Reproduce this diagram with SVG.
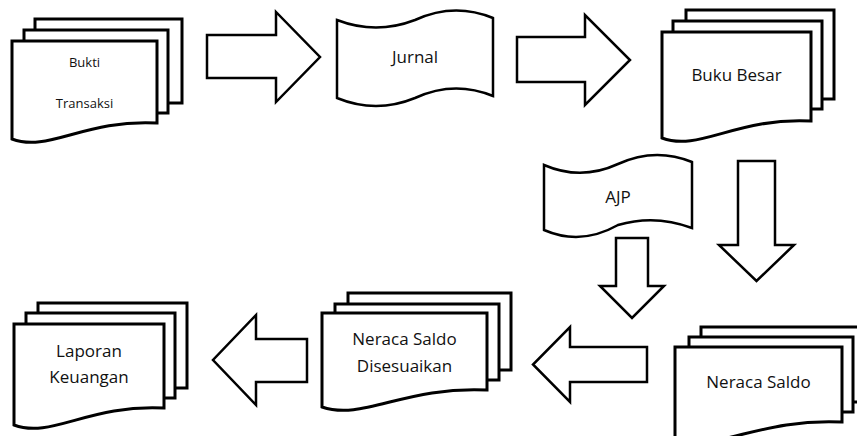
<svg xmlns="http://www.w3.org/2000/svg" width="857" height="436" viewBox="0 0 857 436">
<style>
.sheet{fill:#fff;stroke:#000;stroke-width:3;stroke-linejoin:miter}
.tape{fill:#fff;stroke:#000;stroke-width:2.5}
.arrow{fill:#fff;stroke:#000;stroke-width:2.5;stroke-linejoin:miter}
.t{font-family:"Open Sans","Noto Sans",sans-serif;font-size:17px;fill:#111;text-anchor:middle}
.ts{font-family:"Open Sans","Noto Sans",sans-serif;font-size:13px;fill:#111;text-anchor:middle}
</style>
<rect width="857" height="436" fill="#fff"/>
<g id="connectors">
<polygon class="arrow" points="207,35 276,35 276,12 320,57 276,102 276,78 207,78"/>
<polygon class="arrow" points="517,37 585,37 585,15 630,60 585,105 585,82 517,82"/>
<polygon class="arrow" points="738,161 775,161 775,245 794,245 756.5,281 719,245 738,245"/>
<polygon class="arrow" points="616,238 648,238 648,286 664,286 632,318 600,286 616,286"/>
<polygon class="arrow" points="647,347 570,347 570,327 533,364.5 570,402 570,382 647,382"/>
<polygon class="arrow" points="307,339 256,339 256,315 213,360 256,405 256,382 307,382"/>
</g>
<g id="bukti-transaksi">
<rect class="sheet" x="35" y="19" width="147" height="84"/>
<rect class="sheet" x="24" y="30" width="144" height="83"/>
<path class="sheet" d="M12,41 H157 V123 C84.5,119 48.25,153 12,139 Z"/>
<text class="ts" x="84.5" y="67">Bukti</text>
<text class="ts" x="84.5" y="108">Transaksi</text>
</g>
<g id="jurnal">
<path class="tape" d="M337,20 Q376,35 415,20 Q454,2 493,18 L493,96 Q454,80 415,98 Q376,114 337,98 Z"/>
<text class="t" x="415" y="63">Jurnal</text>
</g>
<g id="buku-besar">
<rect class="sheet" x="686" y="10" width="148" height="89"/>
<rect class="sheet" x="673" y="21" width="149" height="88"/>
<path class="sheet" d="M662,32 H811 V121 C736.5,117 699.25,152 662,138 Z"/>
<text class="t" x="736.5" y="81">Buku Besar</text>
</g>
<g id="ajp">
<path class="tape" d="M544,165 Q581,181 618,164 Q655,147 692,162 L692,228 Q655,214 618,225 Q581,246 544,230 Z"/>
<text class="t" x="618" y="203">AJP</text>
</g>
<g id="neraca-saldo">
<rect class="sheet" x="701" y="327" width="165" height="75"/>
<rect class="sheet" x="689" y="337" width="164" height="75"/>
<path class="sheet" d="M675,347 H842 V422 C758.5,418 716.75,453 675,439 Z"/>
<text class="t" x="758.5" y="388">Neraca Saldo</text>
</g>
<g id="neraca-saldo-disesuaikan">
<rect class="sheet" x="348" y="293" width="163" height="77"/>
<rect class="sheet" x="335" y="304" width="164" height="76"/>
<path class="sheet" d="M322,313 H487 V390 C404.5,386 363.25,421 322,407 Z"/>
<text class="t" x="404.5" y="345">Neraca Saldo</text>
<text class="t" x="404.5" y="372">Disesuaikan</text>
</g>
<g id="laporan-keuangan">
<rect class="sheet" x="38" y="303" width="149" height="85"/>
<rect class="sheet" x="26" y="313" width="149" height="85"/>
<path class="sheet" d="M14,324 H164 V408 C89,404 51.5,439 14,425 Z"/>
<text class="t" x="89" y="357">Laporan</text>
<text class="t" x="89" y="383">Keuangan</text>
</g>
</svg>
